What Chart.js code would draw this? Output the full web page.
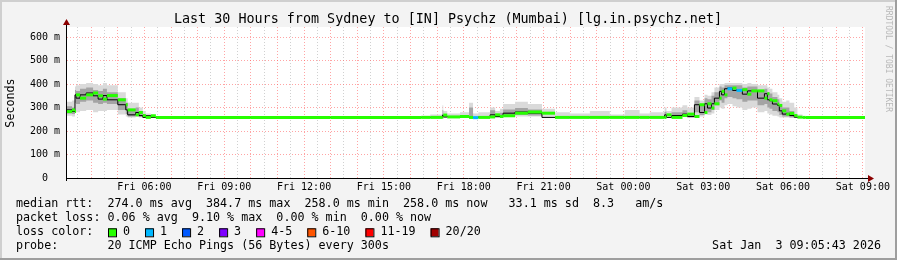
<!DOCTYPE html>
<html>
<head>
<meta charset="utf-8">
<script src="https://cdn.jsdelivr.net/npm/chart.js@4.4.1/dist/chart.umd.min.js"></script>
<style>
  html, body { margin: 0; padding: 0; background: #f3f3f3; }
</style>
</head>
<body>
<canvas id="graph" width="897" height="260"></canvas>
<script>
// time in hours since Fri 00:00, each value holds until the next time
const hours = [
  3.09, 3.28, 3.39, 3.43, 3.58, 3.81, 4.07, 4.26, 4.44, 4.59, 5.00, 5.30, 5.37, 5.67, 5.79, 5.94, 6.05, 6.24, 6.43,
  10.0, 13.0, 16.40, 16.74, 17.20, 17.23, 17.38, 17.86, 18.20, 18.35, 18.55, 18.99, 19.18, 19.36, 19.48, 19.93,
  20.41, 20.94, 21.43, 21.99, 22.74, 23.49, 24.05, 24.61, 24.99, 25.55, 25.62, 25.81, 26.22, 26.40, 26.67,
  26.86, 27.05, 27.16, 27.31, 27.42, 27.61, 27.69, 27.80, 27.91, 28.10, 28.25, 28.47, 28.66, 28.81, 29.04,
  29.30, 29.41, 29.49, 29.60, 29.79, 29.86, 29.97, 30.12, 30.24, 30.42, 30.54, 30.73, 30.85, 33.08
];
// median rtt in ms
const medianRtt = [
  283, 290, 283, 354, 340, 354, 362, 350, 336, 351, 333, 312, 290, 269, 279, 266, 258, 265, 258,
  258, 258, 258, 258, 258, 268, 260, 262, 258, 257, 258, 260, 269, 262, 265, 276,
  281, 276, 258, 258, 258, 258, 258, 258, 258, 258, 269, 258, 266, 272, 262,
  312, 279, 316, 298, 316, 340, 369, 354, 380, 383, 373, 376, 357, 371, 371,
  340, 359, 333, 329, 315, 309, 286, 272, 275, 266, 259, 258, 258, 258
];
// lost pings out of 20
const lossCount = [
  0, 0, 0, 0, 0, 0, 0, 0, 0, 0, 0, 0, 0, 0, 0, 0, 0, 0, 0,
  0, 0, 0, 0, 0, 0, 0, 0, 0, 1, 0, 0, 0, 0, 0, 0,
  0, 0, 0, 0, 0, 0, 0, 0, 0, 0, 0, 0, 0, 0, 0,
  0, 0, 0, 0, 0, 0, 0, 0, 1, 0, 1, 0, 0, 0, 0,
  0, 0, 0, 0, 0, 0, 0, 0, 0, 0, 0, 0, 0, 0
];
// smoke: full spread of the pings
const smokeLow = [
  262, 265, 262, 290, 280, 285, 290, 280, 285, 285, 290, 270, 262, 258, 260, 258, 258, 258, 258,
  258, 258, 258, 258, 258, 258, 258, 258, 258, 258, 258, 258, 258, 258, 258, 262,
  262, 262, 258, 258, 258, 258, 258, 258, 258, 258, 258, 258, 258, 260, 258,
  265, 262, 270, 268, 275, 290, 300, 295, 310, 315, 305, 300, 290, 295, 300,
  280, 285, 275, 270, 265, 262, 258, 258, 258, 258, 258, 258, 258, 258
];
const smokeHigh = [
  322, 325, 330, 390, 395, 400, 405, 400, 395, 405, 395, 365, 340, 320, 320, 300, 285, 275, 260,
  258, 258, 258, 265, 270, 310, 285, 275, 280, 320, 275, 280, 300, 285, 295, 315,
  325, 315, 295, 280, 275, 285, 270, 290, 275, 280, 300, 285, 300, 310, 300,
  345, 330, 355, 350, 365, 385, 400, 400, 405, 405, 405, 405, 400, 405, 400,
  395, 395, 385, 380, 365, 355, 340, 325, 330, 320, 300, 270, 258, 258
];
// smoke: inner half of the pings
const coreLow = [
  272, 275, 272, 320, 315, 325, 330, 320, 315, 320, 315, 290, 272, 262, 265, 260, 258, 258, 258,
  258, 258, 258, 258, 258, 262, 258, 258, 258, 258, 258, 258, 262, 258, 260, 266,
  268, 266, 258, 258, 258, 258, 258, 258, 258, 258, 262, 258, 260, 264, 258,
  280, 268, 285, 280, 290, 310, 330, 320, 340, 345, 340, 335, 325, 330, 330,
  310, 315, 300, 295, 285, 280, 268, 262, 262, 258, 258, 258, 258, 258
];
const coreHigh = [
  300, 305, 300, 375, 370, 380, 385, 375, 370, 380, 365, 340, 320, 295, 300, 285, 270, 268, 258,
  258, 258, 258, 258, 260, 290, 268, 262, 262, 300, 260, 262, 288, 272, 278, 292,
  298, 292, 258, 258, 258, 258, 258, 258, 258, 258, 282, 258, 280, 288, 275,
  330, 310, 340, 335, 350, 365, 390, 385, 395, 395, 395, 395, 385, 390, 390,
  375, 380, 365, 360, 345, 335, 315, 300, 300, 285, 268, 258, 258, 258
];

const xLabelHours = [6, 9, 12, 15, 18, 21, 24, 27, 30, 33];
const xLabels = ['Fri 06:00', 'Fri 09:00', 'Fri 12:00', 'Fri 15:00', 'Fri 18:00', 'Fri 21:00',
                 'Sat 00:00', 'Sat 03:00', 'Sat 06:00', 'Sat 09:00'];
const yLabelValues = [0, 100, 200, 300, 400, 500, 600];
const yLabels = ['0  ', '100 m', '200 m', '300 m', '400 m', '500 m', '600 m'];

const lossSteps = [0, 1, 2, 3, 5, 10, 19, 20];
const lossNames = ['0', '1', '2', '3', '4-5', '6-10', '11-19', '20/20'];
const lossColors = ['#26ff00', '#00b8ff', '#0059ff', '#7e00ff', '#ff00ff', '#ff5500', '#ff0000', '#a10000'];

const title = 'Last 30 Hours from Sydney to [IN] Psychz (Mumbai) [lg.in.psychz.net]';
const statLines = [
  'median rtt:  274.0 ms avg  384.7 ms max  258.0 ms min  258.0 ms now   33.1 ms sd  8.3   am/s',
  'packet loss: 0.06 % avg  9.10 % max  0.00 % min  0.00 % now',
  'loss color:',
  'probe:       20 ICMP Echo Pings (56 Bytes) every 300s'
];
const stamp = 'Sat Jan  3 09:05:43 2026';
const MONO = '"DejaVu Sans Mono", monospace';

function lossColor(n) {
  for (let i = 0; i < lossSteps.length; i++) {
    if (n <= lossSteps[i]) return lossColors[i];
  }
  return lossColors[lossColors.length - 1];
}

function series(vals) {
  return hours.map((h, i) => ({ x: h, y: vals[i] }));
}

// green bars only on the flat part of each step; black line does the risers
const medianDashes = [];
for (let i = 0; i < hours.length - 1; i++) {
  medianDashes.push({ x: hours[i], y: medianRtt[i] });
  medianDashes.push({ x: hours[i + 1], y: medianRtt[i] });
  medianDashes.push({ x: hours[i + 1], y: null });
}

const frame = {
  id: 'frame',
  beforeDraw(chart) {
    const c = chart.ctx, a = chart.chartArea;
    c.save();
    c.fillStyle = '#f3f3f3';
    c.fillRect(0, 0, chart.width, chart.height);
    c.fillStyle = '#cfcfcf';
    c.fillRect(0, 0, chart.width, 2);
    c.fillRect(0, 0, 2, chart.height);
    c.fillStyle = '#9e9e9e';
    c.fillRect(0, chart.height - 2, chart.width, 2);
    c.fillRect(chart.width - 2, 0, 2, chart.height);
    c.fillStyle = '#ffffff';
    c.fillRect(a.left, a.top, a.right - a.left, a.bottom - a.top);
    c.restore();
  },
  afterDraw(chart) {
    const c = chart.ctx, a = chart.chartArea;
    c.save();
    // axes with arrows
    c.strokeStyle = '#000';
    c.lineWidth = 1;
    c.beginPath();
    c.moveTo(a.left - 0.5, a.bottom + 0.5);
    c.lineTo(a.right + 5, a.bottom + 0.5);
    c.moveTo(a.left - 0.5, a.bottom + 3);
    c.lineTo(a.left - 0.5, a.top - 4);
    c.stroke();
    c.fillStyle = '#8b0000';
    c.beginPath();
    c.moveTo(a.right + 3, a.bottom - 3);
    c.lineTo(a.right + 9, a.bottom + 0.5);
    c.lineTo(a.right + 3, a.bottom + 4);
    c.fill();
    c.beginPath();
    c.moveTo(a.left - 4, a.top - 2);
    c.lineTo(a.left - 0.5, a.top - 8);
    c.lineTo(a.left + 3, a.top - 2);
    c.fill();

    c.fillStyle = '#000';
    c.textBaseline = 'middle';
    c.font = '13.4px ' + MONO;
    c.textAlign = 'center';
    c.fillText(title, 448, 19.5);

    c.font = '11.7px ' + MONO;
    c.save();
    c.translate(11, 103);
    c.rotate(-Math.PI / 2);
    c.fillText('Seconds', 0, 0);
    c.restore();

    c.textAlign = 'left';
    statLines.forEach((t, i) => c.fillText(t, 16, 204.3 + i * 14));

    // loss colour boxes
    let x = 108;
    const yb = 204.3 + 2 * 14;
    lossNames.forEach((name, i) => {
      c.fillStyle = lossColors[i];
      c.fillRect(x, yb - 4, 8, 8);
      c.strokeStyle = '#000';
      c.strokeRect(x + 0.5, yb - 3.5, 8, 8);
      c.fillStyle = '#000';
      c.fillText(name, x + 15, yb);
      x += 30 + c.measureText(name).width;
    });

    c.textAlign = 'right';
    c.fillText(stamp, 881, 204.3 + 3 * 14);

    c.fillStyle = '#b8b8b8';
    c.font = '8px ' + MONO;
    c.textAlign = 'center';
    c.translate(888, 59);
    c.rotate(Math.PI / 2);
    c.fillText('RRDTOOL / TOBI OETIKER', 0, 0);
    c.restore();
  }
};

const band = (vals, color, fill) => ({
  data: series(vals),
  stepped: 'after',
  borderWidth: 0,
  pointRadius: 0,
  backgroundColor: color,
  fill: fill
});

new Chart(document.getElementById('graph'), {
  type: 'line',
  data: {
    datasets: [
      {
        data: medianDashes,
        borderWidth: 3,
        borderCapStyle: 'butt',
        pointRadius: 0,
        spanGaps: false,
        borderColor: '#26ff00',
        segment: {
          borderColor: ctx => lossColor(lossCount[Math.floor(ctx.p0DataIndex / 3)])
        }
      },
      {
        data: series(medianRtt),
        stepped: 'after',
        borderWidth: 1,
        borderColor: '#000',
        pointRadius: 0
      },
      band(coreHigh, '#a4a4a4', '+1'),
      band(coreLow, 'transparent', false),
      band(smokeHigh, '#dadada', '+1'),
      band(smokeLow, 'transparent', false)
    ]
  },
  options: {
    responsive: false,
    animation: false,
    devicePixelRatio: 1,
    layout: { padding: { top: 27, left: 0, right: 32, bottom: 0 } },
    plugins: { legend: { display: false }, tooltip: { enabled: false }, title: { display: false } },
    scales: {
      x: {
        type: 'linear',
        min: 3.09,
        max: 33.08,
        afterFit: s => { s.height = 82; },
        afterBuildTicks: s => {
          const t = [];
          for (let v = 3.5; v <= 33; v += 0.5) t.push({ value: v });
          s.ticks = t;
        },
        border: { display: false, dash: [1, 2] },
        grid: {
          drawTicks: false,
          lineWidth: 1,
          color: ctx => (ctx.tick.value % 1 === 0 ? 'rgba(255,90,90,0.55)' : 'rgba(150,150,150,0.45)')
        },
        ticks: {
          autoSkip: false,
          maxRotation: 0,
          padding: 3,
          color: '#000',
          font: { family: MONO, size: 10 },
          callback: v => {
            const k = xLabelHours.indexOf(v);
            return k >= 0 ? xLabels[k] : '';
          }
        }
      },
      y: {
        min: 0,
        max: 643,
        afterFit: s => { s.width = 67; },
        afterBuildTicks: s => {
          const t = [];
          for (let v = 0; v <= 600; v += 50) t.push({ value: v });
          s.ticks = t;
        },
        border: { display: false, dash: [1, 2] },
        grid: {
          drawTicks: false,
          lineWidth: 1,
          color: ctx => (ctx.tick.value % 100 === 0 ? 'rgba(255,90,90,0.55)' : 'rgba(150,150,150,0.45)')
        },
        ticks: {
          padding: 7,
          color: '#000',
          font: { family: MONO, size: 10 },
          callback: v => {
            const k = yLabelValues.indexOf(v);
            return k >= 0 ? yLabels[k] : '';
          }
        }
      }
    }
  },
  plugins: [frame]
});
</script>
</body>
</html>
